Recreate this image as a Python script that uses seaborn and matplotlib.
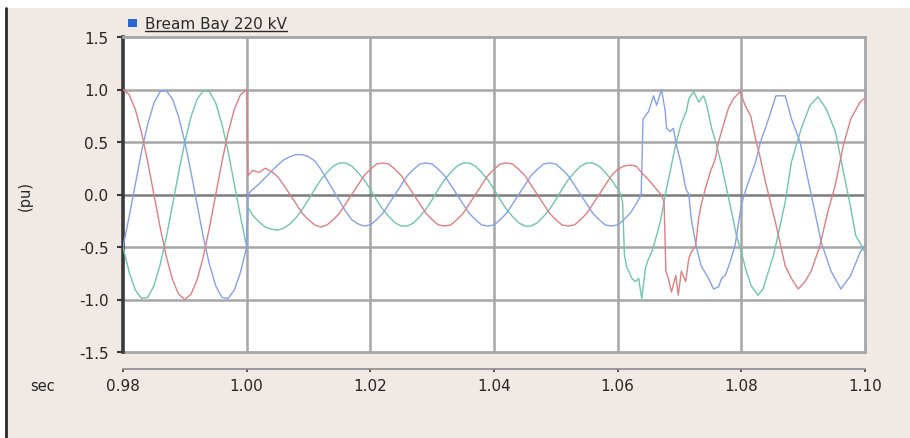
"""
Bream Bay 220 kV three-phase voltage through a fault (pu vs sec).
"""

import numpy as np
import pandas as pd
import matplotlib
matplotlib.use("Agg")
import matplotlib.pyplot as plt
import seaborn as sns
from matplotlib.patches import Rectangle
from matplotlib.lines import Line2D

# ---- data ----------------------------------------------------------------
# pre-fault, 0.980 .. 1.000 s every 1 ms
t_pre = np.linspace(0.980, 1.000, 21)
red_pre = [1.00, 0.95, 0.81, 0.59, 0.31, 0.00, -0.31, -0.59, -0.81, -0.95, -1.00,
           -0.95, -0.81, -0.59, -0.31, 0.00, 0.31, 0.59, 0.81, 0.95, 1.00]
blue_pre = [-0.50, -0.21, 0.10, 0.41, 0.67, 0.87, 0.98, 0.99, 0.91, 0.74, 0.50,
            0.21, -0.10, -0.41, -0.67, -0.87, -0.98, -0.99, -0.91, -0.74, -0.50]
green_pre = [-0.50, -0.74, -0.91, -0.99, -0.98, -0.87, -0.67, -0.41, -0.10, 0.21, 0.50,
             0.74, 0.91, 0.99, 0.98, 0.87, 0.67, 0.41, 0.10, -0.21, -0.50]

# fault, 1.0002 then 1.001 .. 1.060 s every 1 ms
t_fault = np.r_[1.0002, np.linspace(1.001, 1.060, 60)]
red_fault = [0.18, 0.23, 0.21, 0.25, 0.22, 0.17, 0.09, 0.00, -0.09, -0.18,
             -0.24, -0.29, -0.31, -0.29, -0.24, -0.18, -0.09, 0.00, 0.09, 0.18,
             0.24, 0.29, 0.30, 0.29, 0.24, 0.18, 0.09, 0.00, -0.09, -0.18,
             -0.24, -0.29, -0.30, -0.29, -0.24, -0.18, -0.09, 0.00, 0.09, 0.18,
             0.24, 0.29, 0.30, 0.29, 0.24, 0.18, 0.09, 0.00, -0.09, -0.18,
             -0.24, -0.29, -0.30, -0.29, -0.24, -0.18, -0.09, 0.00, 0.09, 0.18,
             0.24]
blue_fault = [0.00, 0.05, 0.10, 0.16, 0.22, 0.28, 0.33, 0.36, 0.38, 0.38,
              0.36, 0.32, 0.24, 0.14, 0.04, -0.06, -0.16, -0.24, -0.28, -0.30,
              -0.29, -0.24, -0.18, -0.09, 0.00, 0.09, 0.18, 0.24, 0.29, 0.30,
              0.29, 0.24, 0.18, 0.09, 0.00, -0.09, -0.18, -0.24, -0.29, -0.30,
              -0.29, -0.24, -0.18, -0.09, 0.00, 0.09, 0.18, 0.24, 0.29, 0.30,
              0.29, 0.24, 0.18, 0.09, 0.00, -0.09, -0.18, -0.24, -0.29, -0.30,
              -0.29]
green_fault = [-0.12, -0.20, -0.26, -0.31, -0.33, -0.34, -0.32, -0.28, -0.22, -0.14,
               -0.05, 0.05, 0.14, 0.21, 0.27, 0.30, 0.30, 0.27, 0.21, 0.14,
               0.05, -0.05, -0.14, -0.21, -0.27, -0.30, -0.30, -0.27, -0.21, -0.14,
               -0.05, 0.05, 0.14, 0.21, 0.27, 0.30, 0.30, 0.27, 0.21, 0.14,
               0.05, -0.05, -0.14, -0.21, -0.27, -0.30, -0.30, -0.27, -0.21, -0.14,
               -0.05, 0.05, 0.14, 0.21, 0.27, 0.30, 0.30, 0.27, 0.21, 0.14,
               0.05]

# recovery, uneven spacing
red_post_t = [1.061, 1.062, 1.063, 1.064, 1.065, 1.066, 1.067, 1.0675, 1.0678,
              1.0682, 1.0687, 1.0694, 1.0698, 1.0703, 1.0710, 1.0715, 1.0719,
              1.0726, 1.0731, 1.0735, 1.0742, 1.0750, 1.0758, 1.0763, 1.0771,
              1.0779, 1.0787, 1.0798, 1.0806, 1.0815, 1.0823, 1.0831, 1.0839,
              1.0847, 1.0855, 1.0860, 1.0871, 1.0881, 1.0892, 1.0903, 1.0913,
              1.0927, 1.0940, 1.0952, 1.0965, 1.0977, 1.0992, 1.1000]
red_post = [0.27, 0.28, 0.27, 0.20, 0.14, 0.07, 0.00, -0.07, -0.73,
            -0.80, -0.93, -0.77, -0.96, -0.73, -0.83, -0.61, -0.55,
            -0.49, -0.23, -0.10, 0.06, 0.22, 0.34, 0.50, 0.66,
            0.82, 0.91, 0.98, 0.85, 0.75, 0.53, 0.34, 0.12,
            -0.07, -0.26, -0.39, -0.68, -0.80, -0.90, -0.83, -0.73,
            -0.49, -0.16, 0.09, 0.47, 0.72, 0.88, 0.92]
blue_post_t = [1.061, 1.062, 1.063, 1.0638, 1.0641, 1.0650, 1.0658, 1.0663,
               1.0671, 1.0677, 1.0679, 1.0685, 1.0690, 1.0695, 1.0702, 1.0710,
               1.0715, 1.0719, 1.0727, 1.0735, 1.0747, 1.0755, 1.0763, 1.0768,
               1.0774, 1.0782, 1.0790, 1.0795, 1.0800, 1.0808, 1.0823, 1.0831,
               1.0844, 1.0856, 1.0871, 1.0881, 1.0895, 1.0913, 1.0929, 1.0945,
               1.0961, 1.0977, 1.0992, 1.1000]
blue_post = [-0.24, -0.18, -0.09, 0.00, 0.72, 0.79, 0.94, 0.85,
             1.00, 0.79, 0.63, 0.60, 0.63, 0.47, 0.31, 0.06,
             0.00, -0.23, -0.49, -0.68, -0.80, -0.90, -0.88, -0.80,
             -0.77, -0.64, -0.48, -0.29, -0.10, 0.06, 0.31, 0.50,
             0.72, 0.94, 0.94, 0.72, 0.50, 0.00, -0.45, -0.73,
             -0.90, -0.77, -0.55, -0.48]
green_post_t = [1.0605, 1.0608, 1.0611, 1.0615, 1.0618, 1.0623, 1.0629, 1.0634,
                1.0637, 1.0639, 1.0645, 1.0650, 1.0655, 1.0663, 1.0669, 1.0674,
                1.0679, 1.0685, 1.0690, 1.0695, 1.0702, 1.0706, 1.0711, 1.0715,
                1.0723, 1.0731, 1.0739, 1.0744, 1.0752, 1.0760, 1.0768, 1.0776,
                1.0784, 1.0792, 1.0800, 1.0808, 1.0816, 1.0827, 1.0835, 1.0844,
                1.0852, 1.0860, 1.0871, 1.0881, 1.0897, 1.0911, 1.0924, 1.0937,
                1.0952, 1.0965, 1.0976, 1.0985, 1.1000]
green_post = [0.00, -0.08, -0.58, -0.70, -0.73, -0.80, -0.83, -0.80,
              -0.92, -0.99, -0.70, -0.61, -0.55, -0.39, -0.26, -0.10,
              0.06, 0.22, 0.37, 0.50, 0.66, 0.72, 0.79, 0.91,
              0.98, 0.88, 0.94, 0.85, 0.63, 0.47, 0.28, 0.06,
              -0.16, -0.39, -0.55, -0.73, -0.87, -0.96, -0.90, -0.73,
              -0.58, -0.37, -0.07, 0.31, 0.63, 0.85, 0.93, 0.82,
              0.60, 0.22, -0.10, -0.39, -0.55]

x_ticks = [0.98, 1.00, 1.02, 1.04, 1.06, 1.08, 1.10]
y_ticks = [-1.5, -1.0, -0.5, 0.0, 0.5, 1.0, 1.5]
legend_label = "Bream Bay 220 kV"

# ---- long table for seaborn ----------------------------------------------
def phase_frame(name, pre, fault, post_t, post):
    t = np.r_[t_pre, t_fault, post_t]
    v = np.r_[pre, fault, post]
    return pd.DataFrame({"t": t, "v": v, "phase": name})

df = pd.concat([
    phase_frame("green", green_pre, green_fault, green_post_t, green_post),
    phase_frame("blue", blue_pre, blue_fault, blue_post_t, blue_post),
    phase_frame("red", red_pre, red_fault, red_post_t, red_post),
], ignore_index=True)

palette = {"red": "#e07f82", "blue": "#86a0ee", "green": "#6ec6ac"}

# ---- figure ---------------------------------------------------------------
sns.set_style("white")
plt.rcParams["font.family"] = ["DejaVu Sans"]
plt.rcParams["axes.unicode_minus"] = False

W, H = 910, 439
bg = "#f1e9e4"
fig = plt.figure(figsize=(W / 100, H / 100), dpi=100, facecolor=bg)

# white margin top/left and the dark frame line of the screenshot
fig.patches.append(Rectangle((0, 1 - 9 / H), 1, 9 / H, transform=fig.transFigure,
                             facecolor="white", edgecolor="none", zorder=0))
fig.patches.append(Rectangle((0, 0), 6 / W, 1, transform=fig.transFigure,
                             facecolor="white", edgecolor="none", zorder=0))
fig.lines.append(Line2D([6 / W, 6 / W], [0, 1 - 9 / H], transform=fig.transFigure,
                        color="#2a2a2a", lw=2))

ax = fig.add_axes([123 / W, 1 - 353 / H, (865 - 123) / W, (353 - 38) / H])
ax.set_facecolor("white")

grid_kw = dict(color="#a6a6a6", lw=1.8, zorder=1)
for x in x_ticks[1:-1]:
    ax.axvline(x, **grid_kw)
for y in [-1.0, -0.5, 0.5, 1.0]:
    ax.axhline(y, **grid_kw)
ax.axhline(0.0, color="#7c7c7c", lw=1.8, zorder=1)
ax.axhline(-1.5, color="#a6a6a6", lw=2, zorder=1, clip_on=False)

sns.lineplot(data=df, x="t", y="v", hue="phase", palette=palette, estimator=None,
             sort=False, legend=False, linewidth=1.0, ax=ax, zorder=3)

ax.set_xlim(0.98, 1.10)
ax.set_ylim(-1.5, 1.5)
ax.set_xticks(x_ticks)
ax.set_xticklabels([f"{x:.2f}" for x in x_ticks])
ax.set_yticks(y_ticks)
ax.set_yticklabels([f"{y:.1f}" for y in y_ticks])
ax.set_xlabel("")
ax.set_ylabel("")

for side in ["top", "right"]:
    ax.spines[side].set_color("#a6a6a6")
    ax.spines[side].set_linewidth(2)
ax.spines["left"].set_color("#3a3a3a")
ax.spines["left"].set_linewidth(2.6)
ax.spines["bottom"].set_position(("outward", 12))
ax.spines["bottom"].set_color("#8a8a8a")
ax.spines["bottom"].set_linewidth(1.2)

ax.tick_params(axis="y", direction="out", length=4.5, width=1.5, color="#3a3a3a",
               pad=6, labelsize=11, labelcolor="#262626", left=True)
ax.tick_params(axis="x", direction="out", length=2.5, width=1.2, color="#3a3a3a",
               pad=4, labelsize=11, labelcolor="#262626", bottom=True)

fig.text(25 / W, 1 - 196 / H, "(pu)", rotation=90, ha="center", va="center",
         fontsize=10.5, color="#262626")
fig.text(43 / W, 1 - 387 / H, "sec", ha="center", va="center",
         fontsize=10.5, color="#262626")

# legend: blue square + underlined label
fig.patches.append(Rectangle((128 / W, 1 - 28 / H), 9 / W, 8 / H,
                             transform=fig.transFigure, facecolor="#2a66d8",
                             edgecolor="none"))
lbl = fig.text(145 / W, 1 - 24 / H, legend_label, ha="left", va="center",
               fontsize=11, color="#2a2a2a")
fig.canvas.draw()
bb = lbl.get_window_extent().transformed(fig.transFigure.inverted())
fig.lines.append(Line2D([bb.x0, bb.x1], [1 - 31.5 / H, 1 - 31.5 / H],
                        transform=fig.transFigure, color="#2a2a2a", lw=1))

fig.savefig("out.png", dpi=100, facecolor=bg)
